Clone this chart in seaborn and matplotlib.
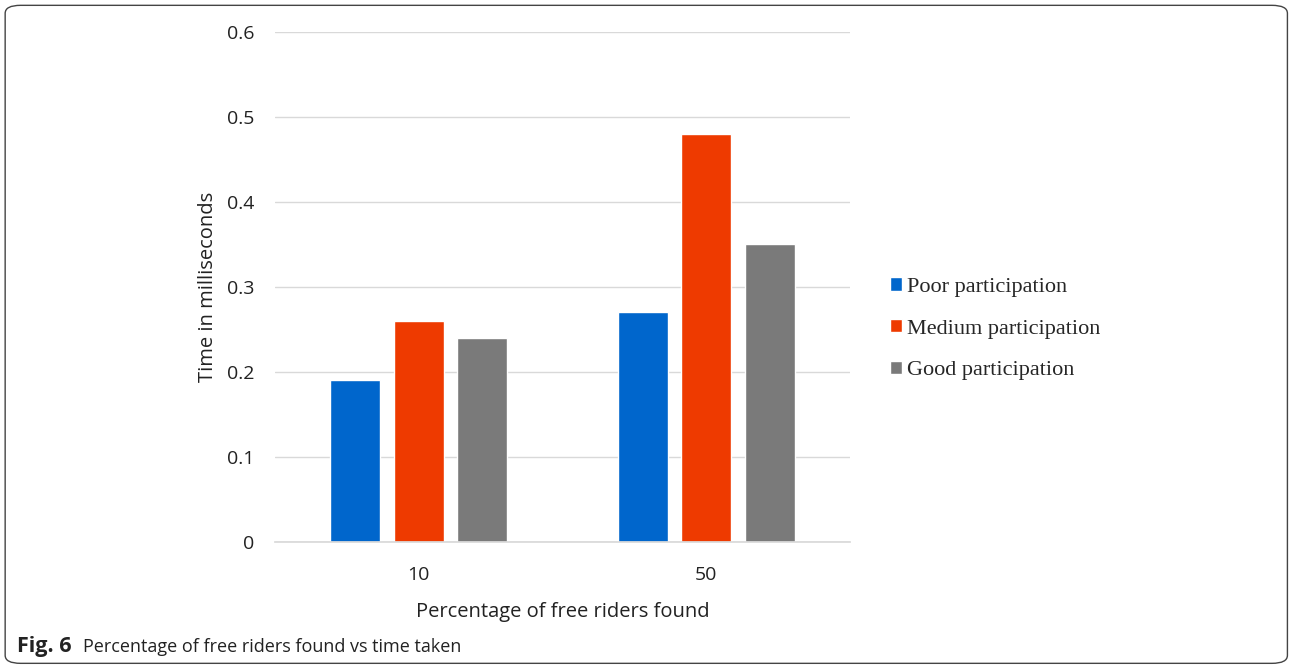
import matplotlib
matplotlib.use("Agg")
import matplotlib.pyplot as plt
import seaborn as sns
import pandas as pd
from matplotlib.patches import FancyBboxPatch

categories = ["10", "50"]
series = ["Poor participation", "Medium participation", "Good participation"]
poor = [0.19, 0.27]
medium = [0.26, 0.48]
good = [0.24, 0.35]
colors = ["#0066cc", "#ee3a00", "#7a7a7a"]
yticks = [0, 0.1, 0.2, 0.3, 0.4, 0.5, 0.6]
ytick_labels = ["0", "0.1", "0.2", "0.3", "0.4", "0.5", "0.6"]

rows = []
for name, vals in zip(series, [poor, medium, good]):
    for c, v in zip(categories, vals):
        rows.append({"cat": c, "series": name, "value": v})
df = pd.DataFrame(rows)

sns.set_theme(style="white")
plt.rcParams['font.family'] = ['Open Sans', 'DejaVu Sans']

fig = plt.figure(figsize=(12.9, 6.66), dpi=100)
ax = fig.add_axes([0.2132, 0.1862, 0.4457, 0.7658])
sns.barplot(data=df, x="cat", y="value", hue="series", order=categories,
            hue_order=series, palette=colors, width=0.663, gap=0.21,
            saturation=1, ax=ax, legend=True)

ax.set_ylim(0, 0.6)
ax.set_yticks(yticks)
ax.set_yticklabels(ytick_labels)
ax.yaxis.grid(True, color="#d9d9d9", linewidth=1)
ax.set_axisbelow(True)
for s in ["top", "right", "left"]:
    ax.spines[s].set_visible(False)
ax.spines["bottom"].set_color("#d9d9d9")
ax.tick_params(axis="both", length=0, labelsize=14, colors="#222222")
ax.tick_params(axis="x", pad=17)
ax.tick_params(axis="y", pad=15)
ax.set_xlabel("Percentage of free riders found", fontsize=14.5, color="#222222", labelpad=13)
ax.set_ylabel("Time in milliseconds", fontsize=14.5, color="#222222", labelpad=6)

leg = ax.legend(loc="center left", bbox_to_anchor=(1.035, 0.418), frameon=False,
                prop={"family": "Liberation Serif", "size": 16},
                handlelength=0.55, handleheight=0.55, handletextpad=0.2,
                labelspacing=1.0)

fig.patches.append(FancyBboxPatch((0.004, 0.004), 0.994, 0.988,
                                  boxstyle="round,pad=0,rounding_size=0.012",
                                  transform=fig.transFigure, fill=False,
                                  edgecolor="#444444", linewidth=1.0))
fig.text(0.013, 0.021, "Fig. 6", fontsize=15.5, fontweight="bold", color="#222222")
fig.text(0.064, 0.021, "Percentage of free riders found vs time taken",
         fontsize=13, color="#222222")

fig.savefig("out.png", dpi=100)
